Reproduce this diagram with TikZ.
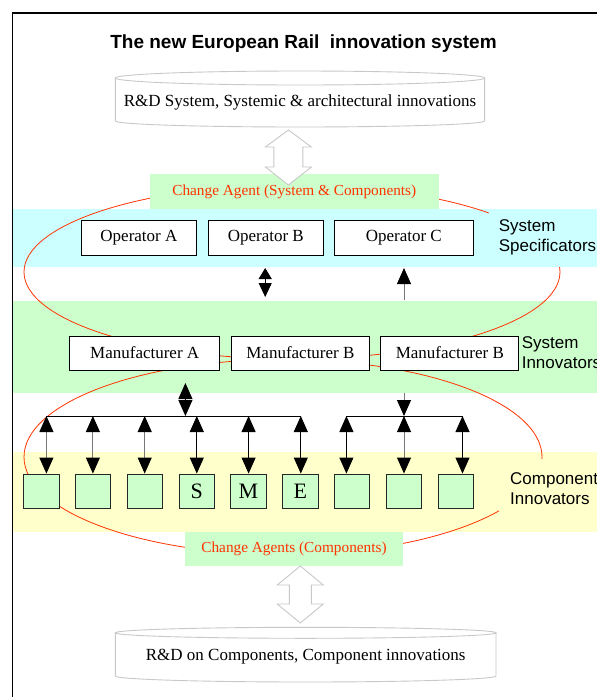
\documentclass[tikz,border=0pt]{standalone}
\usepackage{fontspec}
\setmainfont{Liberation Serif}
\setsansfont{Liberation Sans}
\usetikzlibrary{arrows.meta}
\definecolor{bcyan}{HTML}{CCFFFF}
\definecolor{bgreen}{HTML}{CCFFCC}
\definecolor{byellow}{HTML}{FFFFCC}
\definecolor{redline}{HTML}{FF3300}
\definecolor{lgray}{HTML}{C8C8C8}
\definecolor{midgray}{HTML}{777777}
\begin{document}
\begin{tikzpicture}[x=1pt,y=-1pt,
  txt/.style={font=\fontsize{17}{20}\selectfont, inner sep=0pt},
  box/.style={draw=black, fill=white, line width=0.9pt, minimum height=34pt, inner sep=0pt, font=\fontsize{17}{20}\selectfont},
  comp/.style={draw=black!85, fill=bgreen, line width=0.9pt, minimum width=35.4pt, minimum height=34pt, inner sep=0pt, font=\fontsize{22}{24}\selectfont},
  agent/.style={fill=bgreen, text=redline, inner sep=0pt, font=\fontsize{15.3}{17}\selectfont},
  lab/.style={font=\sffamily\fontsize{17}{20}\selectfont, align=left, inner sep=0pt, anchor=west},
  tip/.style={-{Triangle[width=14pt,length=16pt,color=black]}},
  dtip/.style={{Triangle[width=14pt,length=16pt,color=black]}-{Triangle[width=14pt,length=16pt,color=black]}},
  stip/.style={{Triangle[width=13pt,length=11pt,color=black]}-{Triangle[width=13pt,length=14pt,color=black]}},
  cyl/.style={draw=lgray, fill=white, line width=0.9pt},
  hollow/.style={draw=lgray, fill=white, line width=0.9pt, line join=miter},
  loopline/.style={draw=redline, line width=0.8pt},
  wire/.style={line width=0.9pt}
]
\clip (0,0) rectangle (597,697);
\fill[white] (0,0) rectangle (597,697);
% bands
\fill[bcyan] (12.5,209) rectangle (610,267);
\fill[bgreen] (12.5,301) rectangle (610,393);
\fill[byellow] (12.5,452) rectangle (610,532);
% frame
\draw[line width=1.2pt] (12.5,710) -- (12.5,13) -- (610,13);
% title
\node[font=\sffamily\bfseries\fontsize{19}{22}\selectfont, inner sep=0pt] (title) at (303.5,44) {The new European Rail\ \ innovation system};
% top cylinder
\draw[cyl] (115.4,78) -- (115.4,121) arc[start angle=180,end angle=360,x radius=184.6pt,y radius=6pt] -- (484.6,78) -- cycle;
\draw[cyl] (300,78) ellipse[x radius=184.6pt, y radius=7pt];
\node[txt] (rdsys) at (300,102) {R\&D System, Systemic \& architectural innovations};
% bottom cylinder
\draw[cyl] (115.4,632.8) -- (115.4,676) arc[start angle=180,end angle=360,x radius=190.3pt,y radius=6pt] -- (496,632.8) -- cycle;
\draw[cyl] (305.7,632.8) ellipse[x radius=190.3pt, y radius=5.5pt];
\node[txt] (rdcomp) at (305.7,657) {R\&D on Components, Component innovations};
% red loops
\draw[loopline] (292,272) ellipse[x radius=268pt, y radius=87pt];
\draw[loopline] (283,457) ellipse[x radius=259pt, y radius=97.5pt];
% label covers and labels
\fill[bcyan] (489,209) rectangle (610,267);
\fill[byellow] (499,459) rectangle (610,511);
\node[lab] (spec) at (498.7,237) {System\\Specificators};
\node[lab] (sysinn) at (521.6,352.5) {System\\Innovators};
\node[lab] (compinn) at (510,488.5) {Component\\Innovators};
% operators
\node[box, minimum width=115.8pt, minimum height=35pt] (opA) at (138.9,237.5) {Operator A};
\node[box, minimum width=115.7pt, minimum height=35pt] (opB) at (265.8,237.5) {Operator B};
\node[box, minimum width=138.9pt, minimum height=35pt] (opC) at (403.8,237.5) {Operator C};
% manufacturers
\node[box, minimum width=150pt] (mA) at (144.7,353) {Manufacturer A};
\node[box, minimum width=138.6pt] (mB) at (300.4,353) {Manufacturer B};
\node[box, minimum width=138.2pt] (mC) at (449.8,353) {Manufacturer B};
% components
\node[comp] (c1) at (41.3,491) {};
\node[comp] (c2) at (93.1,491) {};
\node[comp] (c3) at (144.9,491) {};
\node[comp] (c4) at (196.7,491) {S};
\node[comp] (c5) at (248.5,491) {M};
\node[comp] (c6) at (300.3,491) {E};
\node[comp] (c7) at (352.1,491) {};
\node[comp] (c8) at (403.9,491) {};
\node[comp] (c9) at (455.7,491) {};
% change agents
\node[agent, minimum width=289.4pt, minimum height=35pt] (ca1) at (294.3,191.5) {Change Agent (System \& Components)};
\node[agent, minimum width=218.9pt, minimum height=34pt] (ca2) at (294,549) {Change Agents (Components)};
% operator / manufacturer arrows
\coordinate (opT) at (265.2,268);
\coordinate (opD) at (265.2,297);
\draw[wire, stip] (opT) -- (opD);
\coordinate (upT) at (404,268);
\coordinate (upB) at (404,300);
\draw[wire, draw=midgray, tip] (upB) -- (upT);
% tree connectors
\coordinate (maT) at (185.4,383);
\coordinate (maB) at (185.4,416);
\draw[wire, dtip] (maT) -- (maB);
\coordinate (mcT) at (404,393);
\coordinate (mcB) at (404,416);
\draw[wire, draw=midgray, tip] (mcT) -- (mcB);
\coordinate (barAL) at (46.4,416);
\coordinate (barAR) at (300.8,416);
\coordinate (barBL) at (346.4,416);
\coordinate (barBR) at (462.5,416);
\draw[wire] (barAL) -- (barAR);
\draw[wire] (barBL) -- (barBR);
\coordinate (t1) at (46.4,416);
\coordinate (t2) at (92.9,416);
\coordinate (t3) at (144.7,416);
\coordinate (t4) at (196.8,416);
\coordinate (t5) at (248.6,416);
\coordinate (t6) at (300.8,416);
\coordinate (t7) at (346.4,416);
\coordinate (t8) at (404,416);
\coordinate (t9) at (462.5,416);
\draw[wire, draw=midgray, dtip] (t1) -- (t1 |- c1.north);
\draw[wire, draw=midgray, dtip] (t2) -- (t2 |- c2.north);
\draw[wire, draw=midgray, dtip] (t3) -- (t3 |- c3.north);
\draw[wire, dtip] (t4) -- (t4 |- c4.north);
\draw[wire, dtip] (t5) -- (t5 |- c5.north);
\draw[wire, dtip] (t6) -- (t6 |- c6.north);
\draw[wire, dtip] (t7) -- (t7 |- c7.north);
\draw[wire, draw=midgray, dtip] (t8) -- (t8 |- c8.north);
\draw[wire, dtip] (t9) -- (t9 |- c9.north);
% hollow double arrows
\draw[hollow] (288.4,130) -- (311.4,147) -- (302.9,147) -- (302.9,167) -- (311.4,167) -- (288.4,185)
  -- (265.4,167) -- (273.9,167) -- (273.9,147) -- (265.4,147) -- cycle;
\draw[hollow] (300.3,566) -- (323.3,585) -- (311.3,585) -- (311.3,604) -- (323.3,604) -- (300.3,623)
  -- (277.3,604) -- (289.3,604) -- (289.3,585) -- (277.3,585) -- cycle;
\end{tikzpicture}
\end{document}
